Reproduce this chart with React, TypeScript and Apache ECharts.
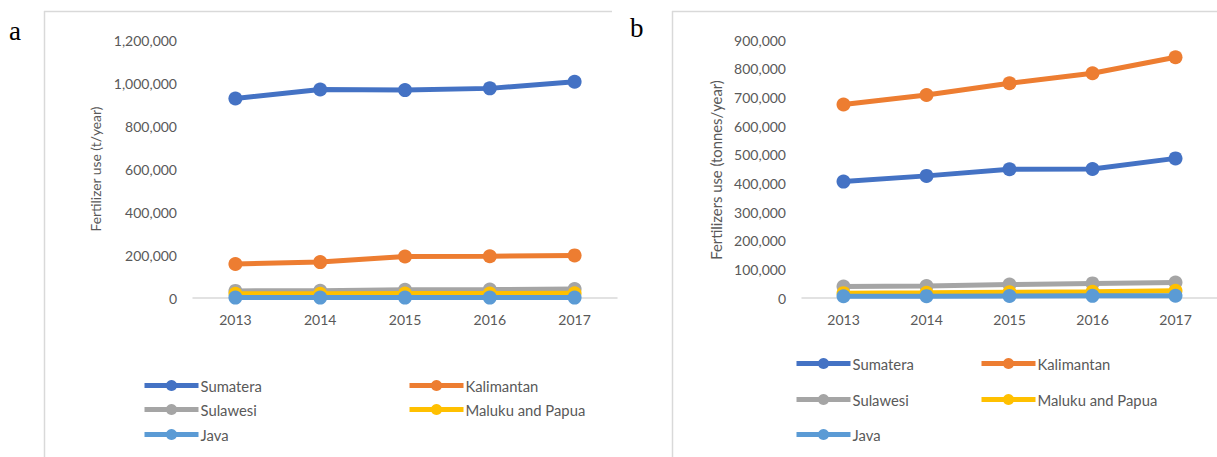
import React, { useEffect, useRef } from "react";
import * as echarts from "echarts";

const years = ["2013", "2014", "2015", "2016", "2017"];
const seriesNames = ["Sumatera", "Kalimantan", "Sulawesi", "Maluku and Papua", "Java"];
const colors = ["#4472C4", "#ED7D31", "#A5A5A5", "#FFC000", "#5B9BD5"];

// Panel a: Fertilizer use (t/year)
const aSumatera = [928000, 970000, 967000, 975000, 1006000];
const aKalimantan = [158000, 167000, 193000, 194000, 198000];
const aSulawesi = [33000, 34000, 38000, 39000, 42000];
const aMaluku = [20000, 20000, 21000, 21000, 22000];
const aJava = [2000, 2000, 2000, 2000, 2000];

// Panel b: Fertilizers use (tonnes/year)
const bSumatera = [406000, 426000, 449000, 450000, 487000];
const bKalimantan = [675000, 708000, 749000, 784000, 840000];
const bSulawesi = [40000, 42000, 47000, 51000, 54000];
const bMaluku = [17000, 18000, 20000, 22000, 25000];
const bJava = [6000, 6500, 7000, 7500, 8000];

const aTicks = { max: 1200000, interval: 200000 };
const bTicks = { max: 900000, interval: 100000 };

const FONT = "Lato, 'Open Sans', sans-serif";
const TEXT = "#595959";
const GRIDLINE = "#D9D9D9";

export default function App() {
  const ref = useRef<HTMLDivElement>(null);
  useEffect(() => {
    if (!ref.current) return;
    const chart = echarts.init(ref.current, null, { renderer: "svg" });
    const aData = [aSumatera, aKalimantan, aSulawesi, aMaluku, aJava];
    const bData = [bSumatera, bKalimantan, bSulawesi, bMaluku, bJava];
    const mkSeries = (data: number[][], idx: number, suffix: string) =>
      data.map((d, i) => ({
        type: "line",
        name: seriesNames[i] + suffix,
        xAxisIndex: idx,
        yAxisIndex: idx,
        data: d,
        symbol: "circle",
        symbolSize: 14,
        showSymbol: true,
        lineStyle: { width: 5, color: colors[i] },
        itemStyle: { color: colors[i] },
        z: 2 + i,
      }));
    const fmt = (v: number) => v.toLocaleString("en-US");
    const xAxisBase = {
      type: "category",
      data: years,
      boundaryGap: true,
      axisLine: { lineStyle: { color: GRIDLINE, width: 1.5 } },
      axisTick: { show: false },
      axisLabel: { color: TEXT, fontSize: 14, fontFamily: FONT, margin: 14 },
    };
    const yAxisBase = {
      type: "value",
      min: 0,
      splitLine: { show: false },
      axisLine: { show: false },
      axisTick: { show: false },
      axisLabel: { color: TEXT, fontSize: 14, fontFamily: FONT, margin: 16, formatter: fmt },
    };
    const aLeg = [
      [137, 373], [402, 373], [137, 397], [402, 397], [137, 422],
    ];
    const bLeg = [
      [789, 351], [974, 351], [789, 387], [974, 387], [789, 422],
    ];
    const legends: any[] = [];
    const legBase = {
      itemWidth: 54,
      itemHeight: 14,
      itemGap: 0,
      selectedMode: false,
      lineStyle: { width: 5 },
      textStyle: { color: TEXT, fontSize: 14.8, fontFamily: FONT, padding: [0, 0, 0, -3] },
    };
    seriesNames.forEach((n, i) => {
      legends.push({ ...legBase, data: [n + " "], left: aLeg[i][0], top: aLeg[i][1] });
      legends.push({ ...legBase, data: [n], left: bLeg[i][0], top: bLeg[i][1] });
    });
    chart.setOption({
      animation: false,
      backgroundColor: "#ffffff",
      textStyle: { fontFamily: FONT },
      grid: [
        { left: 193, top: 40, width: 424, height: 258 },
        { left: 802, top: 40, width: 430, height: 258 },
      ],
      xAxis: [
        { ...xAxisBase, gridIndex: 0 },
        { ...xAxisBase, gridIndex: 1 },
      ],
      yAxis: [
        { ...yAxisBase, gridIndex: 0, max: aTicks.max, interval: aTicks.interval },
        { ...yAxisBase, gridIndex: 1, max: bTicks.max, interval: bTicks.interval },
      ],
      legend: legends,
      series: [...mkSeries(aData, 0, " "), ...mkSeries(bData, 1, "")],
      graphic: [
        { type: "line", shape: { x1: 44.5, y1: 11, x2: 44.5, y2: 457 }, style: { stroke: GRIDLINE, lineWidth: 1.5 } },
        { type: "line", shape: { x1: 44, y1: 11.5, x2: 612, y2: 11.5 }, style: { stroke: GRIDLINE, lineWidth: 1.5 } },
        { type: "line", shape: { x1: 672.5, y1: 11, x2: 672.5, y2: 457 }, style: { stroke: GRIDLINE, lineWidth: 1.5 } },
        { type: "line", shape: { x1: 672, y1: 11.5, x2: 1217, y2: 11.5 }, style: { stroke: GRIDLINE, lineWidth: 1.5 } },
        {
          type: "text", left: 9, top: 17,
          style: { text: "a", font: "27px 'Liberation Serif', 'Times New Roman', serif", fill: "#000" },
        },
        {
          type: "text", left: 630, top: 14,
          style: { text: "b", font: "27px 'Liberation Serif', 'Times New Roman', serif", fill: "#000" },
        },
        {
          type: "text", x: 95, y: 169, rotation: Math.PI / 2,
          style: { text: "Fertilizer use (t/year)", align: "center", verticalAlign: "middle", fill: TEXT, font: "13.8px " + FONT },
        },
        {
          type: "text", x: 716, y: 170, rotation: Math.PI / 2,
          style: { text: "Fertilizers use (tonnes/year)", align: "center", verticalAlign: "middle", fill: TEXT, font: "14.8px " + FONT },
        },
      ],
    });
    return () => chart.dispose();
  }, []);
  return (
    <div
      ref={ref}
      style={{ position: "fixed", left: 0, top: 0, width: 1217, height: 457, background: "#fff" }}
    />
  );
}
